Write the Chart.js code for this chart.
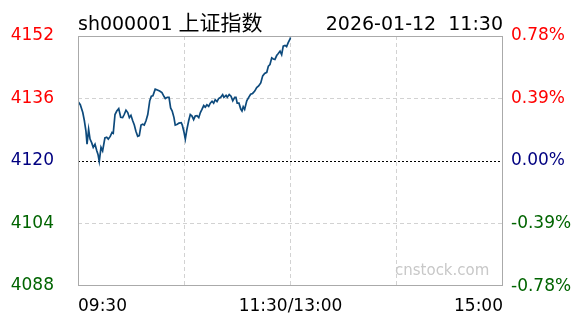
<!DOCTYPE html>
<html>
<head>
<meta charset="utf-8">
<title>sh000001</title>
<script src="https://cdn.jsdelivr.net/npm/chart.js@4.4.1/dist/chart.umd.min.js"></script>
<style>
  html, body { margin: 0; padding: 0; background: #fff; }
  #box { width: 588px; height: 324px; }
</style>
</head>
<body>
<div id="box"><canvas id="linechart" width="588" height="324"></canvas></div>
<script>
// minuti dalle 09:30 (solo la mattina)
var minutes = [0,1.3,2.7,3.6,4.5,5.1,6.0,6.8,7.7,8.6,
  9.6,10.6,11.3,12.0,13.0,13.9,15.2,16.2,17.1,18.2,
  19.2,19.9,20.9,21.9,23.0,24.1,25.2,26.1,27.1,28.1,
  29.0,29.9,30.9,31.8,32.7,33.7,34.6,35.6,36.5,37.4,
  38.4,39.4,40.5,41.4,42.3,43.6,44.8,46.1,47.4,48.6,
  49.3,50.4,51.4,52.3,53.2,54.2,54.9,56.1,57.0,58.3,
  58.9,59.9,60.6,61.5,62.5,63.4,64.4,65.3,66.2,67.2,
  68.2,69.1,70.0,71.0,71.9,72.8,73.8,74.7,75.7,76.6,
  77.5,78.5,79.4,80.6,81.7,82.4,83.6,84.3,85.4,86.4,
  87.4,88.5,89.2,89.9,90.9,91.9,92.6,93.3,94.1,95.3,
  96.4,97.5,98.6,99.8,100.9,102.0,103.2,104.3,105.4,106.6,
  107.5,108.4,109.4,110.3,111.2,112.2,113.1,114.1,115.0,115.9,
  116.9,117.8,118.7,119.7,120.0];

var prices = [4135.2,4134.4,4132.4,4130.3,4127.6,4124.3,4128.1,4125.6,4124.7,4123.5,
  4124.3,4122.6,4121.7,4119.9,4123.5,4122.6,4125.9,4126.1,4125.6,4126.3,
  4127.3,4127.1,4131.9,4132.8,4133.4,4131.2,4131.1,4131.9,4133.0,4132.4,
  4131.1,4131.7,4130.3,4129.2,4127.6,4126.3,4126.5,4129.2,4129.4,4129.2,
  4130.3,4131.9,4135.4,4136.6,4136.7,4138.4,4138.2,4137.9,4137.5,4136.5,
  4136.0,4136.3,4136.3,4133.6,4132.8,4131.1,4129.2,4129.4,4129.7,4129.8,
  4129.2,4127.3,4125.6,4128.1,4130.3,4131.9,4131.5,4130.6,4131.5,4131.6,
  4131.1,4132.4,4133.2,4134.2,4133.8,4134.4,4134.0,4134.8,4135.3,4134.8,
  4135.7,4135.2,4136.0,4136.3,4137.0,4136.3,4136.8,4136.3,4137.0,4136.6,
  4135.4,4136.3,4136.3,4134.8,4134.8,4133.3,4132.8,4133.9,4133.2,4135.4,
  4136.3,4137.1,4137.3,4137.9,4138.8,4139.2,4140.0,4141.8,4142.4,4142.7,
  4144.3,4144.7,4146.4,4146.1,4146.0,4147.0,4147.5,4148.1,4147.2,4149.4,
  4149.6,4149.3,4150.3,4151.2,4151.6];

var prevClose = 4120;
var priceTicks = [4088, 4104, 4120, 4136, 4152];
var pctTicks = [-0.78, -0.39, 0, 0.39, 0.78];
var timeTicks = [0, 60, 120, 180, 240];
var timeLabels = ['09:30', '', '11:30/13:00', '', '15:00'];

var titleCode = 'sh000001 ';
var titleName = '上证指数';
var titleRight = '2026-01-12  11:30';
var watermark = 'cnstock.com';

var FONT = '"DejaVu Sans", "Noto Sans CJK SC", sans-serif';

function colorFor(diff)
{
  if (diff > 0.00001) return '#ff0000';
  if (diff < -0.00001) return '#006400';
  return '#000080';
}

var framePlugin = {
  id: 'frame',
  afterDraw: function(chart) {
    var ctx = chart.ctx;
    var a = chart.chartArea;
    ctx.save();
    // cornice grigia
    ctx.strokeStyle = '#aaaaaa';
    ctx.lineWidth = 1;
    ctx.strokeRect(Math.round(a.left) + 0.5, Math.round(a.top) + 0.5,
      Math.round(a.right - a.left) - 1, Math.round(a.bottom - a.top) - 1);

    // titolo
    ctx.fillStyle = '#000';
    ctx.font = '19px ' + FONT;
    ctx.textBaseline = 'alphabetic';
    ctx.textAlign = 'left';
    ctx.fillText(titleCode, a.left, 30);
    var w = ctx.measureText(titleCode).width;
    ctx.font = '21px "Noto Sans CJK SC", ' + FONT;
    ctx.fillText(titleName, a.left + w, 30);
    ctx.font = '19px ' + FONT;
    ctx.textAlign = 'right';
    ctx.fillText(titleRight, a.right, 30);

    // marchio
    ctx.fillStyle = '#c8c8c8';
    ctx.font = '15px ' + FONT;
    ctx.textAlign = 'left';
    ctx.textBaseline = 'middle';
    ctx.fillText(watermark, 395, 271);
    ctx.restore();
  }
};

function printline()
{
  var points = minutes.map(function(m, i) { return {x: m, y: prices[i]}; });
  var ctx = document.getElementById('linechart');

  new Chart(ctx, {
    type: 'line',
    data: {
      datasets: [{
        label: '上证指数',
        data: points,
        borderColor: '#0d4a7c',
        borderWidth: 1.7,
        pointRadius: 0,
        tension: 0,
        fill: false,
        yAxisID: 'y'
      }]
    },
    options: {
      responsive: false,
      animation: false,
      devicePixelRatio: 1,
      layout: { padding: { top: 36, left: 0, right: 0, bottom: 0 } },
      plugins: {
        legend: { display: false },
        tooltip: { enabled: false }
      },
      scales: {
        x: {
          type: 'linear',
          min: 0,
          max: 240,
          afterBuildTicks: function(scale) {
            scale.ticks = timeTicks.map(function(v) { return {value: v}; });
          },
          afterFit: function(scale) { scale.height = 38; },
          ticks: {
            autoSkip: false,
            maxRotation: 0,
            align: 'inner',
            padding: 10,
            color: '#000',
            font: { family: FONT, size: 17 },
            callback: function(v, i) { return timeLabels[i]; }
          },
          grid: {
            drawTicks: false,
            color: function(c) {
              var v = c.tick ? c.tick.value : 0;
              return (v === 0 || v === 240) ? 'rgba(0,0,0,0)' : '#d2d2d2';
            }
          },
          border: { display: false, dash: [4, 3] }
        },
        y: {
          position: 'left',
          min: 4088,
          max: 4152,
          afterBuildTicks: function(scale) {
            scale.ticks = priceTicks.map(function(v) { return {value: v}; });
          },
          afterFit: function(scale) { scale.width = 78; },
          ticks: {
            padding: 24,
            font: { family: FONT, size: 17 },
            color: function(c) { return colorFor(c.tick.value - prevClose); },
            callback: function(v) { return String(v); }
          },
          grid: {
            drawTicks: false,
            color: function(c) {
              var v = c.tick ? c.tick.value : 0;
              if (v === prevClose) return '#000000';
              if (v === 4088 || v === 4152) return 'rgba(0,0,0,0)';
              return '#d2d2d2';
            }
          },
          border: {
            display: false,
            dash: function(c) {
              return (c.tick && c.tick.value === prevClose) ? [2, 2] : [4, 3];
            }
          }
        },
        y1: {
          position: 'right',
          min: (4088 / prevClose - 1) * 100,
          max: (4152 / prevClose - 1) * 100,
          afterBuildTicks: function(scale) {
            scale.ticks = pctTicks.map(function(v) { return {value: v}; });
          },
          afterFit: function(scale) { scale.width = 85; },
          ticks: {
            padding: 8,
            font: { family: FONT, size: 17 },
            color: function(c) { return colorFor(c.tick.value); },
            callback: function(v) { return v.toFixed(2) + '%'; }
          },
          grid: { display: false, drawTicks: false },
          border: { display: false }
        }
      }
    },
    plugins: [framePlugin]
  });
}

printline();
</script>
</body>
</html>
